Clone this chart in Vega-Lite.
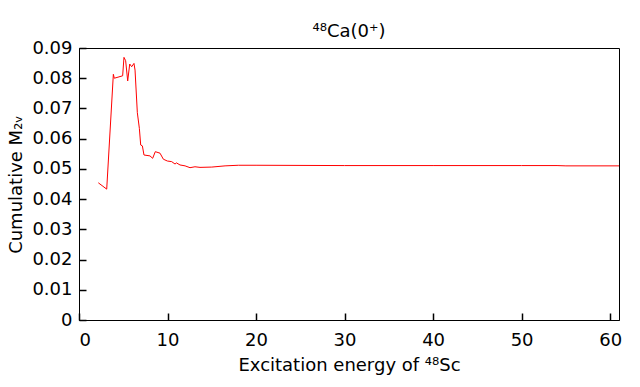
{
  "$schema": "https://vega.github.io/schema/vega-lite/v6.json",
  "autosize": {"type": "none"},
  "width": 540,
  "height": 272,
  "padding": {"left": 79, "top": 48, "right": 21, "bottom": 67},
  "background": "white",
  "config": {
    "view": {"stroke": "black", "strokeWidth": 1}
  },
  "title": {"text": "⁴⁸Ca(0⁺)", "fontSize": 18, "fontWeight": "normal", "font": "DejaVu Sans", "color": "black", "offset": -2},
  "data": {"values": [
    {"E": 2.18, "M": 0.0454}, {"E": 3.13, "M": 0.0433}, {"E": 3.88, "M": 0.0813}, {"E": 3.99, "M": 0.0800},
    {"E": 4.93, "M": 0.0808}, {"E": 5.08, "M": 0.0869}, {"E": 5.27, "M": 0.0858}, {"E": 5.50, "M": 0.0791},
    {"E": 5.73, "M": 0.0847}, {"E": 5.95, "M": 0.0838}, {"E": 6.21, "M": 0.0849}, {"E": 6.33, "M": 0.0827},
    {"E": 6.59, "M": 0.0686}, {"E": 6.82, "M": 0.0634}, {"E": 6.97, "M": 0.0579}, {"E": 7.16, "M": 0.0576},
    {"E": 7.34, "M": 0.0546}, {"E": 8.02, "M": 0.0543}, {"E": 8.32, "M": 0.0535}, {"E": 8.62, "M": 0.0557},
    {"E": 9.15, "M": 0.0552}, {"E": 9.53, "M": 0.0532}, {"E": 9.98, "M": 0.0526}, {"E": 10.47, "M": 0.0524},
    {"E": 10.85, "M": 0.0516}, {"E": 11.0, "M": 0.0520}, {"E": 11.41, "M": 0.0513}, {"E": 11.98, "M": 0.0510},
    {"E": 12.54, "M": 0.0504}, {"E": 13.1, "M": 0.0507}, {"E": 13.67, "M": 0.0505}, {"E": 15.0, "M": 0.0506},
    {"E": 16.5, "M": 0.0510}, {"E": 18.0, "M": 0.0512}, {"E": 20, "M": 0.0512}, {"E": 30, "M": 0.0511},
    {"E": 40, "M": 0.0511}, {"E": 50, "M": 0.0511}, {"E": 54, "M": 0.0511}, {"E": 55, "M": 0.0510},
    {"E": 61, "M": 0.0510}
  ]},
  "mark": {"type": "line", "color": "#ff0000", "strokeWidth": 1},
  "encoding": {
    "x": {"field": "E", "type": "quantitative", "scale": {"domain": [0, 61], "nice": false, "zero": false},
          "axis": {"tickCount": 7, "title": "Excitation energy of ⁴⁸Sc", "grid": false, "ticks": true, "tickSize": -7, "tickWidth": 1.5, "tickColor": "black", "domainColor": "black", "labelColor": "black", "titleColor": "black", "labelFont": "DejaVu Sans", "titleFont": "DejaVu Sans", "labelFontSize": 18, "titleFontSize": 18, "titleFontWeight": "normal", "labelPadding": 18, "titlePadding": 7}},
    "y": {"field": "M", "type": "quantitative", "scale": {"domain": [0, 0.09], "nice": false},
          "axis": {"tickCount": 10, "format": ".2~f", "title": "Cumulative M₂ᵥ", "grid": false, "ticks": true, "tickSize": -7, "tickWidth": 1.5, "tickColor": "black", "domainColor": "black", "labelColor": "black", "titleColor": "black", "labelFont": "DejaVu Sans", "titleFont": "DejaVu Sans", "labelFontSize": 18, "titleFontSize": 18, "titleFontWeight": "normal", "labelPadding": 14, "titlePadding": 6}}
  }
}
